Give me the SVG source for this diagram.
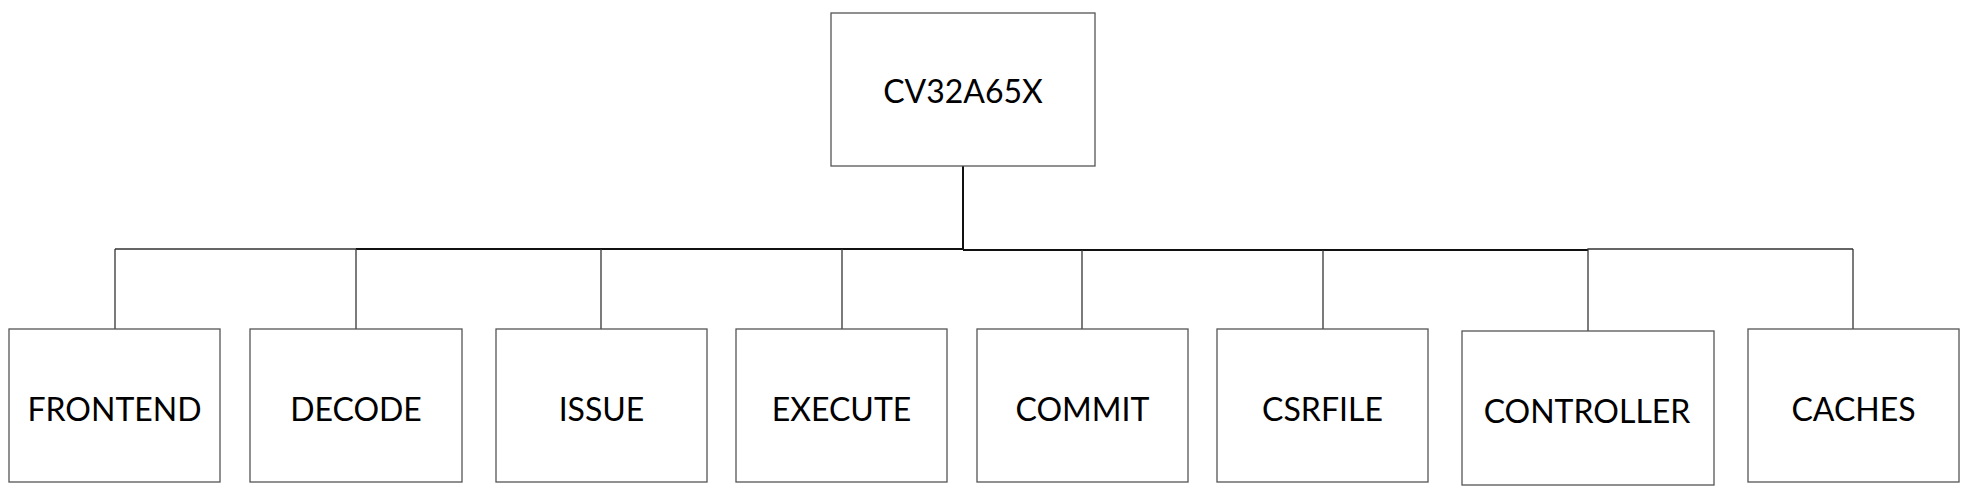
<svg xmlns="http://www.w3.org/2000/svg" width="1971" height="496" viewBox="0 0 1971 496">
<style>
.box{fill:#fff;stroke:#555;stroke-width:1.3}
.lbl{font-family:Lato,"Open Sans","Liberation Sans",sans-serif;font-size:32px;fill:#000;text-anchor:middle}
.wire{fill:none;stroke:#333;stroke-width:1.3}
.bus{fill:none;stroke:#111;stroke-width:2}
</style>
<rect width="1971" height="496" fill="#fff"/>
<g id="connectors">
<line class="bus" x1="963" y1="166" x2="963" y2="249"/>
<line class="wire" x1="115" y1="249" x2="963" y2="249"/>
<line class="bus" x1="356" y1="249" x2="963" y2="249"/>
<line class="bus" x1="963" y1="250" x2="1588" y2="250"/>
<polyline class="wire" points="1588,250 1588,249 1853,249"/>
<line class="wire" x1="115" y1="249" x2="115" y2="329"/>
<line class="wire" x1="356" y1="249" x2="356" y2="329"/>
<line class="wire" x1="601" y1="249" x2="601" y2="329"/>
<line class="wire" x1="842" y1="249" x2="842" y2="329"/>
<line class="wire" x1="1082" y1="250" x2="1082" y2="329"/>
<line class="wire" x1="1323" y1="250" x2="1323" y2="329"/>
<line class="wire" x1="1588" y1="250" x2="1588" y2="331"/>
<line class="wire" x1="1853" y1="249" x2="1853" y2="329"/>
</g>
<g id="cv32a65x">
<rect class="box" x="831" y="13" width="264" height="153"/>
<text class="lbl" x="963" y="103">CV32A65X</text>
</g>
<g id="frontend">
<rect class="box" x="9" y="329" width="211" height="153"/>
<text class="lbl" x="114.5" y="421">FRONTEND</text>
</g>
<g id="decode">
<rect class="box" x="250" y="329" width="212" height="153"/>
<text class="lbl" x="356" y="421">DECODE</text>
</g>
<g id="issue">
<rect class="box" x="496" y="329" width="211" height="153"/>
<text class="lbl" x="601.5" y="421">ISSUE</text>
</g>
<g id="execute">
<rect class="box" x="736" y="329" width="211" height="153"/>
<text class="lbl" x="841.5" y="421">EXECUTE</text>
</g>
<g id="commit">
<rect class="box" x="977" y="329" width="211" height="153"/>
<text class="lbl" x="1082.5" y="421">COMMIT</text>
</g>
<g id="csrfile">
<rect class="box" x="1217" y="329" width="211" height="153"/>
<text class="lbl" x="1322.5" y="421">CSRFILE</text>
</g>
<g id="controller">
<rect class="box" x="1462" y="331" width="252" height="154"/>
<text class="lbl" x="1587" y="423">CONTROLLER</text>
</g>
<g id="caches">
<rect class="box" x="1748" y="329" width="211" height="153"/>
<text class="lbl" x="1853.5" y="421">CACHES</text>
</g>
</svg>
